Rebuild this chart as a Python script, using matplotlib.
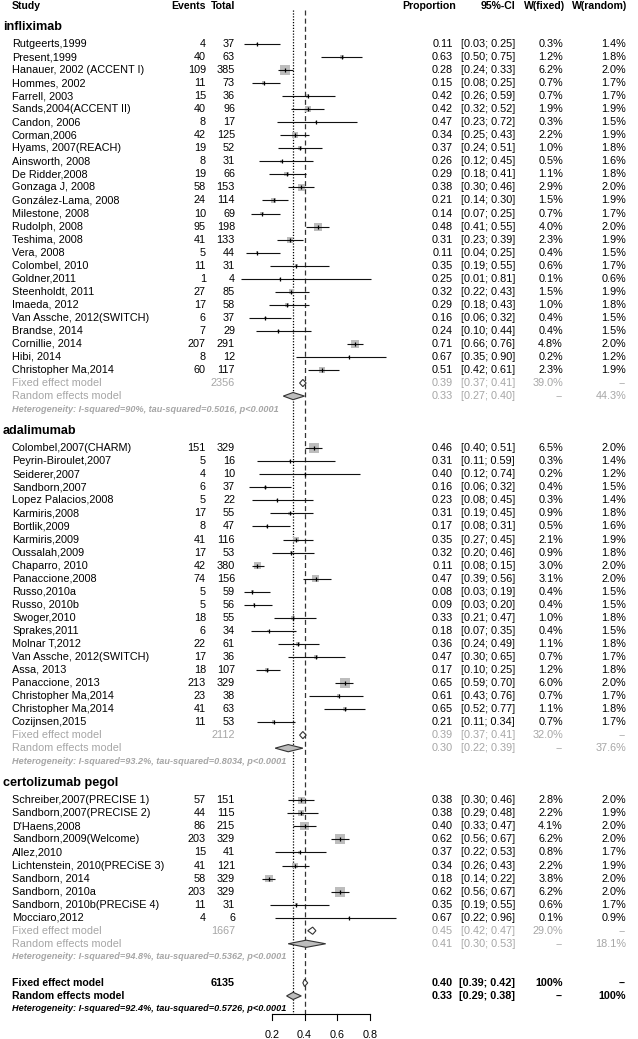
"""Forest plot: proportion of responders by anti-TNF agent (meta-analysis)."""

import matplotlib.pyplot as plt
import numpy as np
from matplotlib.patches import Polygon, Rectangle

plt.rcParams["font.family"] = ["Liberation Sans", "DejaVu Sans"]

# ---------------- data ----------------
infliximab_names = [
    "Rutgeerts,1999", "Present,1999", "Hanauer, 2002 (ACCENT I)", "Hommes, 2002",
    "Farrell, 2003", "Sands,2004(ACCENT II)", "Candon, 2006", "Corman,2006",
    "Hyams, 2007(REACH)", "Ainsworth, 2008", "De Ridder,2008", "Gonzaga J, 2008",
    "González-Lama, 2008", "Milestone, 2008", "Rudolph, 2008", "Teshima, 2008",
    "Vera, 2008", "Colombel, 2010", "Goldner,2011", "Steenholdt, 2011",
    "Imaeda, 2012", "Van Assche, 2012(SWITCH)", "Brandse, 2014", "Cornillie, 2014",
    "Hibi, 2014", "Christopher Ma,2014",
]
infliximab_events = [4, 40, 109, 11, 15, 40, 8, 42, 19, 8, 19, 58, 24, 10, 95, 41,
                     5, 11, 1, 27, 17, 6, 7, 207, 8, 60]
infliximab_total = [37, 63, 385, 73, 36, 96, 17, 125, 52, 31, 66, 153, 114, 69, 198,
                    133, 44, 31, 4, 85, 58, 37, 29, 291, 12, 117]
infliximab_prop = [0.11, 0.63, 0.28, 0.15, 0.42, 0.42, 0.47, 0.34, 0.37, 0.26, 0.29,
                   0.38, 0.21, 0.14, 0.48, 0.31, 0.11, 0.35, 0.25, 0.32, 0.29, 0.16,
                   0.24, 0.71, 0.67, 0.51]
infliximab_lo = [0.03, 0.50, 0.24, 0.08, 0.26, 0.32, 0.23, 0.25, 0.24, 0.12, 0.18,
                 0.30, 0.14, 0.07, 0.41, 0.23, 0.04, 0.19, 0.01, 0.22, 0.18, 0.06,
                 0.10, 0.66, 0.35, 0.42]
infliximab_hi = [0.25, 0.75, 0.33, 0.25, 0.59, 0.52, 0.72, 0.43, 0.51, 0.45, 0.41,
                 0.46, 0.30, 0.25, 0.55, 0.39, 0.25, 0.55, 0.81, 0.43, 0.43, 0.32,
                 0.44, 0.76, 0.90, 0.61]
infliximab_wfix = [0.3, 1.2, 6.2, 0.7, 0.7, 1.9, 0.3, 2.2, 1.0, 0.5, 1.1, 2.9, 1.5,
                   0.7, 4.0, 2.3, 0.4, 0.6, 0.1, 1.5, 1.0, 0.4, 0.4, 4.8, 0.2, 2.3]
infliximab_wran = [1.4, 1.8, 2.0, 1.7, 1.7, 1.9, 1.5, 1.9, 1.8, 1.6, 1.8, 2.0, 1.9,
                   1.7, 2.0, 1.9, 1.5, 1.7, 0.6, 1.9, 1.8, 1.5, 1.5, 2.0, 1.2, 1.9]

adalimumab_names = [
    "Colombel,2007(CHARM)", "Peyrin-Biroulet,2007", "Seiderer,2007", "Sandborn,2007",
    "Lopez Palacios,2008", "Karmiris,2008", "Bortlik,2009", "Karmiris,2009",
    "Oussalah,2009", "Chaparro, 2010", "Panaccione,2008", "Russo,2010a",
    "Russo, 2010b", "Swoger,2010", "Sprakes,2011", "Molnar T,2012",
    "Van Assche, 2012(SWITCH)", "Assa, 2013", "Panaccione, 2013",
    "Christopher Ma,2014", "Christopher Ma,2014", "Cozijnsen,2015",
]
adalimumab_events = [151, 5, 4, 6, 5, 17, 8, 41, 17, 42, 74, 5, 5, 18, 6, 22, 17, 18,
                     213, 23, 41, 11]
adalimumab_total = [329, 16, 10, 37, 22, 55, 47, 116, 53, 380, 156, 59, 56, 55, 34,
                    61, 36, 107, 329, 38, 63, 53]
adalimumab_prop = [0.46, 0.31, 0.40, 0.16, 0.23, 0.31, 0.17, 0.35, 0.32, 0.11, 0.47,
                   0.08, 0.09, 0.33, 0.18, 0.36, 0.47, 0.17, 0.65, 0.61, 0.65, 0.21]
adalimumab_lo = [0.40, 0.11, 0.12, 0.06, 0.08, 0.19, 0.08, 0.27, 0.20, 0.08, 0.39,
                 0.03, 0.03, 0.21, 0.07, 0.24, 0.30, 0.10, 0.59, 0.43, 0.52, 0.11]
adalimumab_hi = [0.51, 0.59, 0.74, 0.32, 0.45, 0.45, 0.31, 0.45, 0.46, 0.15, 0.56,
                 0.19, 0.20, 0.47, 0.35, 0.49, 0.65, 0.25, 0.70, 0.76, 0.77, 0.34]
adalimumab_wfix = [6.5, 0.3, 0.2, 0.4, 0.3, 0.9, 0.5, 2.1, 0.9, 3.0, 3.1, 0.4, 0.4,
                   1.0, 0.4, 1.1, 0.7, 1.2, 6.0, 0.7, 1.1, 0.7]
adalimumab_wran = [2.0, 1.4, 1.2, 1.5, 1.4, 1.8, 1.6, 1.9, 1.8, 2.0, 2.0, 1.5, 1.5,
                   1.8, 1.5, 1.8, 1.7, 1.8, 2.0, 1.7, 1.8, 1.7]

certolizumab_names = [
    "Schreiber,2007(PRECISE 1)", "Sandborn,2007(PRECISE 2)", "D'Haens,2008",
    "Sandborn,2009(Welcome)", "Allez,2010", "Lichtenstein, 2010(PRECiSE 3)",
    "Sandborn, 2014", "Sandborn, 2010a", "Sandborn, 2010b(PRECiSE 4)", "Mocciaro,2012",
]
certolizumab_events = [57, 44, 86, 203, 15, 41, 58, 203, 11, 4]
certolizumab_total = [151, 115, 215, 329, 41, 121, 329, 329, 31, 6]
certolizumab_prop = [0.38, 0.38, 0.40, 0.62, 0.37, 0.34, 0.18, 0.62, 0.35, 0.67]
certolizumab_lo = [0.30, 0.29, 0.33, 0.56, 0.22, 0.26, 0.14, 0.56, 0.19, 0.22]
certolizumab_hi = [0.46, 0.48, 0.47, 0.67, 0.53, 0.43, 0.22, 0.67, 0.55, 0.96]
certolizumab_wfix = [2.8, 2.2, 4.1, 6.2, 0.8, 2.2, 3.8, 6.2, 0.6, 0.1]
certolizumab_wran = [2.0, 1.9, 2.0, 2.0, 1.7, 1.9, 2.0, 2.0, 1.7, 0.9]

group_labels = ["infliximab", "adalimumab", "certolizumab pegol"]
group_n = [2356, 2112, 1667]
group_fixed = [0.39, 0.39, 0.45]
group_fixed_lo = [0.37, 0.37, 0.42]
group_fixed_hi = [0.41, 0.41, 0.47]
group_fixed_w = ["39.0%", "32.0%", "29.0%"]
group_random = [0.33, 0.30, 0.41]
group_random_lo = [0.27, 0.22, 0.30]
group_random_hi = [0.40, 0.39, 0.53]
group_random_w = ["44.3%", "37.6%", "18.1%"]
group_i2 = ["90%", "93.2%", "94.8%"]
group_tau2 = ["0.5016", "0.8034", "0.5362"]

overall_n = 6135
overall_fixed, overall_fixed_lo, overall_fixed_hi = 0.40, 0.39, 0.42
overall_random, overall_random_lo, overall_random_hi = 0.33, 0.29, 0.38
overall_i2, overall_tau2 = "92.4%", "0.5726"

x_ticks = [0.2, 0.4, 0.6, 0.8]

groups = [
    (infliximab_names, infliximab_events, infliximab_total, infliximab_prop,
     infliximab_lo, infliximab_hi, infliximab_wfix, infliximab_wran),
    (adalimumab_names, adalimumab_events, adalimumab_total, adalimumab_prop,
     adalimumab_lo, adalimumab_hi, adalimumab_wfix, adalimumab_wran),
    (certolizumab_names, certolizumab_events, certolizumab_total, certolizumab_prop,
     certolizumab_lo, certolizumab_hi, certolizumab_wfix, certolizumab_wran),
]

# ---------------- layout (pixels) ----------------
W, H = 638, 1039
STEP = 13.04
PX0, PXU = 239.3, 163.0          # pixel of proportion 0, pixels per unit
FS = 7.8
HET_FS = 6.6
GREY = "#a6a6a6"
BOX = "#bdbdbd"
X_NAME, X_EV, X_TOT = 12, 206, 235
X_PROP, X_CI, X_WF, X_WR = 453, 515, 563, 626

fig = plt.figure(figsize=(W / 100, H / 100), dpi=100)
tx = fig.add_axes([0, 0, 1, 1])
tx.set_xlim(0, W)
tx.set_ylim(H, 0)
tx.axis("off")
fx = fig.add_axes([PX0 / W, 0, PXU / W, 1])
fx.set_xlim(0, 1)
fx.set_ylim(H, 0)
fx.axis("off")


def t(x, y, s, ha="left", **kw):
    kw.setdefault("fontsize", FS)
    tx.text(x, y, s, ha=ha, va="center", **kw)


def ci_text(y, est, lo, hi, wf, wr, **kw):
    t(X_PROP, y, f"{est:.2f}", ha="right", **kw)
    t(X_CI, y, f"[{lo:.2f}; {hi:.2f}]", ha="right", **kw)
    t(X_WF, y, wf, ha="right", **kw)
    t(X_WR, y, wr, ha="right", **kw)


def diamond(y, est, lo, hi, face, h=3.6):
    fx.add_patch(Polygon([(lo, y), (est, y - h), (hi, y), (est, y + h)],
                         closed=True, facecolor=face, edgecolor="#333333",
                         lw=0.8, zorder=4))


# header
hdr = dict(fontweight="bold", fontsize=7.6)
t(X_NAME, 6, "Study", **hdr)
t(X_EV, 6, "Events", ha="right", **hdr)
t(X_TOT, 6, "Total", ha="right", **hdr)
t(456, 6, "Proportion", ha="right", **hdr)
t(X_CI, 6, "95%-CI", ha="right", **hdr)
t(565, 6, "W(fixed)", ha="right", **hdr)
t(627, 6, "W(random)", ha="right", **hdr)

y = 44.0
het_y = None
for g, (names, ev, tot, prop, lo, hi, wf, wr) in enumerate(groups):
    if g > 0:
        y = het_y + 3 * STEP
    t(3, y - 17, group_labels[g], fontweight="bold", fontsize=9.1)
    for i in range(len(names)):
        t(X_NAME, y, names[i])
        t(X_EV, y, str(ev[i]), ha="right")
        t(X_TOT, y, str(tot[i]), ha="right")
        ci_text(y, prop[i], lo[i], hi[i], f"{wf[i]:.1f}%", f"{wr[i]:.1f}%")
        s = 4.0 * np.sqrt(wf[i])
        fx.add_patch(Rectangle((prop[i] - s / 2 / PXU, y - s / 2), s / PXU, s,
                               facecolor=BOX, edgecolor="none", zorder=2))
        fx.plot([lo[i], hi[i]], [y, y], color="#111111", lw=0.8, zorder=3,
                solid_capstyle="butt")
        fx.plot([prop[i]], [y], marker="|", ms=3.5, mew=0.9, color="black", zorder=4)
        y += STEP
    # subgroup summaries
    t(X_NAME, y, "Fixed effect model", color=GREY)
    t(X_TOT, y, str(group_n[g]), ha="right", color=GREY)
    ci_text(y, group_fixed[g], group_fixed_lo[g], group_fixed_hi[g],
            group_fixed_w[g], "--", color=GREY)
    diamond(y, group_fixed[g], group_fixed_lo[g], group_fixed_hi[g], "white")
    y += STEP
    t(X_NAME, y, "Random effects model", color=GREY)
    ci_text(y, group_random[g], group_random_lo[g], group_random_hi[g],
            "--", group_random_w[g], color=GREY)
    diamond(y, group_random[g], group_random_lo[g], group_random_hi[g], BOX)
    y += STEP
    het_y = y
    t(X_NAME, y, f"Heterogeneity: I-squared={group_i2[g]}, "
                 f"tau-squared={group_tau2[g]}, p<0.0001",
      color=GREY, fontsize=HET_FS, fontstyle="italic", fontweight="bold")

# overall
y = het_y + 2 * STEP
bold = dict(fontweight="bold")
t(X_NAME, y, "Fixed effect model", fontsize=7.6, **bold)
t(X_TOT, y, str(overall_n), ha="right", **bold)
ci_text(y, overall_fixed, overall_fixed_lo, overall_fixed_hi, "100%", "--", **bold)
diamond(y, overall_fixed, overall_fixed_lo, overall_fixed_hi, "white")
y += STEP
t(X_NAME, y, "Random effects model", fontsize=7.6, **bold)
ci_text(y, overall_random, overall_random_lo, overall_random_hi, "--", "100%", **bold)
diamond(y, overall_random, overall_random_lo, overall_random_hi, BOX)
y += STEP
t(X_NAME, y, f"Heterogeneity: I-squared={overall_i2}, "
             f"tau-squared={overall_tau2}, p<0.0001",
  fontsize=HET_FS, fontstyle="italic", fontweight="bold")

# reference lines and axis
axis_y = y + 5
fx.plot([overall_random] * 2, [10, axis_y], color="black", lw=0.9,
        ls=(0, (1, 1.3)), zorder=1)
fx.plot([overall_fixed] * 2, [10, axis_y], color="#333333", lw=0.9,
        ls=(0, (4, 2.5)), zorder=1)
fx.plot([x_ticks[0], x_ticks[-1]], [axis_y, axis_y], color="black", lw=0.8)
for v in x_ticks:
    fx.plot([v, v], [axis_y, axis_y + 6], color="black", lw=0.8)
    fx.text(v, axis_y + 21, f"{v:.1f}", ha="center", va="center", fontsize=FS)

fig.savefig("out.png", dpi=100)
